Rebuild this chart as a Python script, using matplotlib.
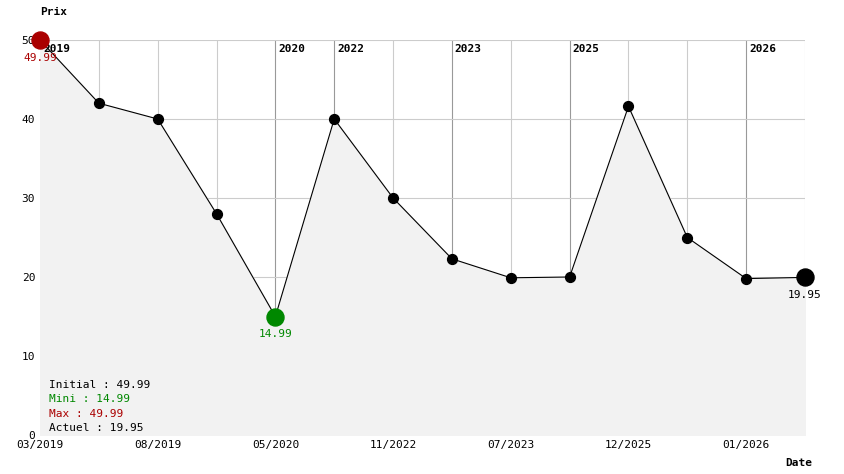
import matplotlib
matplotlib.use("Agg")
import matplotlib.pyplot as plt

prices = [49.99, 42.0, 40.0, 28.0, 14.99, 40.0, 30.0, 22.3, 19.9, 20.0, 41.6, 25.0, 19.8, 19.95]
tick_labels = {0: "03/2019", 2: "08/2019", 4: "05/2020", 6: "11/2022", 8: "07/2023", 10: "12/2025", 12: "01/2026"}
year_marks = {0: "2019", 4: "2020", 5: "2022", 7: "2023", 9: "2025", 12: "2026"}

plt.rcParams['font.family'] = ['DejaVu Sans Mono']
fig = plt.figure(figsize=(8.44, 4.74), dpi=100)
ax = fig.add_axes([40/844, 39/474, 765/844, 395/474])
x = list(range(len(prices)))

ax.fill_between(x, prices, 0, color="#f2f2f2", zorder=1)
for i in x:
    ax.axvline(i, color="#999999" if i in year_marks else "#cccccc", lw=0.8, zorder=0)
for v in range(10, 51, 10):
    ax.axhline(v, color="#cccccc", lw=0.8, zorder=0)
for i, lab in year_marks.items():
    ax.text(i + 0.05, 48.8, lab, fontsize=8, fontweight="bold", va="center", ha="left", zorder=5)

ax.plot(x, prices, color="black", lw=0.8, zorder=3)
ax.scatter(x, prices, s=50, color="black", zorder=4, clip_on=False)
imax = prices.index(max(prices)); imin = prices.index(min(prices))
ax.scatter([imax], [prices[imax]], s=150, color="#aa0000", zorder=6, clip_on=False)
ax.scatter([imin], [prices[imin]], s=150, color="#008800", zorder=6, clip_on=False)
ax.scatter([x[-1]], [prices[-1]], s=150, color="black", zorder=6, clip_on=False)
ax.text(imax, prices[imax] - 1.6, "%.2f" % prices[imax], color="#aa0000", fontsize=8, ha="center", va="top", zorder=7)
ax.text(imin, prices[imin] - 1.6, "%.2f" % prices[imin], color="#008800", fontsize=8, ha="center", va="top")
ax.text(x[-1], prices[-1] - 1.6, "%.2f" % prices[-1], color="black", fontsize=8, ha="center", va="top")

ax.set_xlim(0, len(prices) - 1)
ax.set_ylim(0, 50)
ax.set_xticks(list(tick_labels.keys()))
ax.set_xticklabels(list(tick_labels.values()), fontsize=8)
ax.set_yticks(range(0, 51, 10))
ax.tick_params(labelsize=8, length=0)
for s in ax.spines.values():
    s.set_visible(False)

fig.text(40/844, 1 - 12/474, "Prix", fontsize=8, fontweight="bold", ha="left", va="center")
fig.text(812/844, 1 - 463/474, "Date", fontsize=8, fontweight="bold", ha="right", va="center")

summary = [("Initial : %.2f" % prices[0], "black"), ("Mini : %.2f" % min(prices), "#008800"),
           ("Max : %.2f" % max(prices), "#aa0000"), ("Actuel : %.2f" % prices[-1], "black")]
for k, (t, c) in enumerate(summary):
    ax.text(0.15, 6.3 - k * 1.8, t, color=c, fontsize=8, va="center", ha="left")

fig.savefig("out.png", dpi=100)
